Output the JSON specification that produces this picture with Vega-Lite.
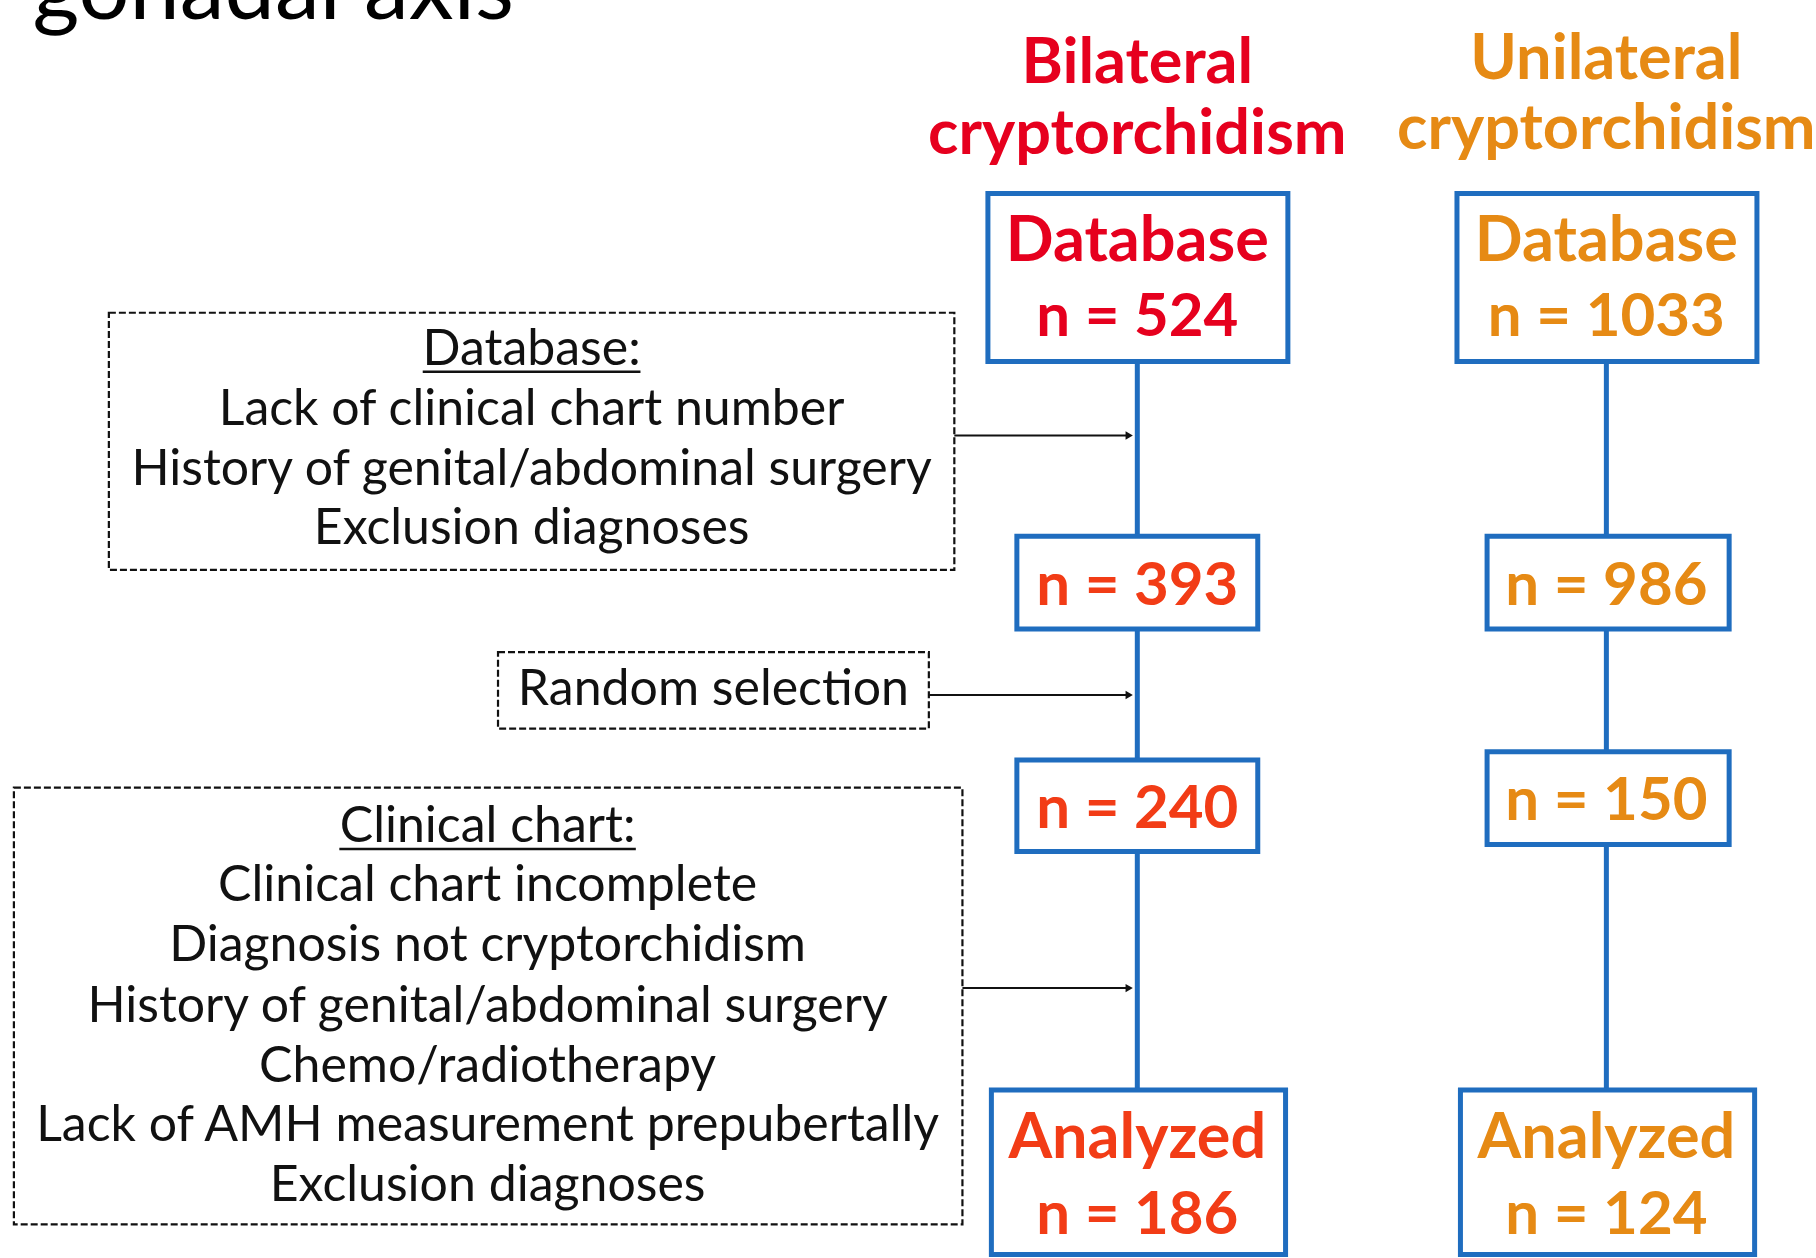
{
  "$schema": "https://vega.github.io/schema/vega-lite/v6.json",
  "width": 1816,
  "height": 1258,
  "autosize": {"type": "none"},
  "padding": 0,
  "background": "white",
  "config": {"view": {"stroke": null}, "axis": {"disable": true}},
  "datasets": {
    "boxes": [
      {"cohort": "Bilateral", "stage": "Database", "x1": 853, "x2": 1112, "y1": 167, "y2": 312},
      {"cohort": "Unilateral", "stage": "Database", "x1": 1258, "x2": 1517, "y1": 167, "y2": 312},
      {"cohort": "Bilateral", "stage": "Eligible", "x1": 878, "x2": 1086, "y1": 463, "y2": 543},
      {"cohort": "Unilateral", "stage": "Eligible", "x1": 1284, "x2": 1493, "y1": 463, "y2": 543},
      {"cohort": "Bilateral", "stage": "Selected", "x1": 878, "x2": 1086, "y1": 656, "y2": 735},
      {"cohort": "Unilateral", "stage": "Selected", "x1": 1284, "x2": 1493, "y1": 649, "y2": 729},
      {"cohort": "Bilateral", "stage": "Analyzed", "x1": 856, "x2": 1110, "y1": 941, "y2": 1083},
      {"cohort": "Unilateral", "stage": "Analyzed", "x1": 1261, "x2": 1515, "y1": 941, "y2": 1083}
    ],
    "links": [
      {"cohort": "Bilateral", "x": 982, "y1": 312, "y2": 463},
      {"cohort": "Bilateral", "x": 982, "y1": 543, "y2": 656},
      {"cohort": "Bilateral", "x": 982, "y1": 735, "y2": 941},
      {"cohort": "Unilateral", "x": 1387, "y1": 312, "y2": 463},
      {"cohort": "Unilateral", "x": 1387, "y1": 543, "y2": 649},
      {"cohort": "Unilateral", "x": 1387, "y1": 729, "y2": 941}
    ],
    "labels": [
      {"cohort": "Bilateral", "stage": "Header", "kind": "word", "text": "Bilateral", "x": 982, "y": 72},
      {"cohort": "Bilateral", "stage": "Header", "kind": "word", "text": "cryptorchidism", "x": 982, "y": 133},
      {"cohort": "Unilateral", "stage": "Header", "kind": "word", "text": "Unilateral", "x": 1387, "y": 68},
      {"cohort": "Unilateral", "stage": "Header", "kind": "word", "text": "cryptorchidism", "x": 1387, "y": 129},
      {"cohort": "Bilateral", "stage": "Database", "kind": "word", "text": "Database", "x": 982, "y": 225},
      {"cohort": "Bilateral", "stage": "Database", "kind": "count", "text": "n = 524", "x": 982, "y": 290},
      {"cohort": "Unilateral", "stage": "Database", "kind": "word", "text": "Database", "x": 1387, "y": 225},
      {"cohort": "Unilateral", "stage": "Database", "kind": "count", "text": "n = 1033", "x": 1387, "y": 290},
      {"cohort": "Bilateral", "stage": "Eligible", "kind": "count", "text": "n = 393", "x": 982, "y": 522},
      {"cohort": "Unilateral", "stage": "Eligible", "kind": "count", "text": "n = 986", "x": 1387, "y": 522},
      {"cohort": "Bilateral", "stage": "Selected", "kind": "count", "text": "n = 240", "x": 982, "y": 715},
      {"cohort": "Unilateral", "stage": "Selected", "kind": "count", "text": "n = 150", "x": 1387, "y": 708},
      {"cohort": "Bilateral", "stage": "Analyzed", "kind": "word", "text": "Analyzed", "x": 982, "y": 1000},
      {"cohort": "Bilateral", "stage": "Analyzed", "kind": "count", "text": "n = 186", "x": 982, "y": 1065},
      {"cohort": "Unilateral", "stage": "Analyzed", "kind": "word", "text": "Analyzed", "x": 1387, "y": 1000},
      {"cohort": "Unilateral", "stage": "Analyzed", "kind": "count", "text": "n = 124", "x": 1387, "y": 1065}
    ],
    "notes": [
      {"block": "Database", "x1": 94, "x2": 824, "y1": 270, "y2": 492, "arrowY": 376},
      {"block": "Random", "x1": 430, "x2": 802, "y1": 563, "y2": 629, "arrowY": 600},
      {"block": "Clinical", "x1": 12, "x2": 831, "y1": 680, "y2": 1057, "arrowY": 853}
    ],
    "noteText": [
      {"block": "Database", "text": "Database:", "x": 459, "y": 315},
      {"block": "Database", "text": "Lack of clinical chart number", "x": 459, "y": 367},
      {"block": "Database", "text": "History of genital/abdominal surgery", "x": 459, "y": 419},
      {"block": "Database", "text": "Exclusion diagnoses", "x": 459, "y": 470},
      {"block": "Random", "text": "Random selection", "x": 616, "y": 609},
      {"block": "Clinical", "text": "Clinical chart:", "x": 421, "y": 727},
      {"block": "Clinical", "text": "Clinical chart incomplete", "x": 421, "y": 778},
      {"block": "Clinical", "text": "Diagnosis not cryptorchidism", "x": 421, "y": 830},
      {"block": "Clinical", "text": "History of genital/abdominal surgery", "x": 421, "y": 882},
      {"block": "Clinical", "text": "Chemo/radiotherapy", "x": 421, "y": 934},
      {"block": "Clinical", "text": "Lack of AMH measurement prepubertally", "x": 421, "y": 985},
      {"block": "Clinical", "text": "Exclusion diagnoses", "x": 421, "y": 1037}
    ],
    "underlines": [
      {"block": "Database", "x1": 365, "x2": 553, "y": 321},
      {"block": "Clinical", "x1": 293, "x2": 549, "y": 733}
    ],
    "title": [
      {"text": "gonadal axis", "x": 28, "y": 16}
    ]
  },
  "layer": [
    {
      "data": {"name": "links"},
      "mark": {"type": "rule", "color": "#1F6DBF", "strokeWidth": 5},
      "encoding": {
        "x": {"field": "x", "type": "quantitative", "scale": {"domain": [0, 1568], "nice": false, "zero": false}},
        "y": {"field": "y1", "type": "quantitative", "scale": {"domain": [0, 1086], "nice": false, "zero": false, "reverse": true}},
        "y2": {"field": "y2"}
      }
    },
    {
      "data": {"name": "boxes"},
      "mark": {"type": "rect", "fill": "white", "stroke": "#1F6DBF", "strokeWidth": 5},
      "encoding": {
        "x": {"field": "x1", "type": "quantitative"},
        "x2": {"field": "x2"},
        "y": {"field": "y1", "type": "quantitative"},
        "y2": {"field": "y2"}
      }
    },
    {
      "data": {"name": "notes"},
      "mark": {"type": "rect", "fill": null, "stroke": "#111111", "strokeWidth": 2.2, "strokeDash": [7, 3]},
      "encoding": {
        "x": {"field": "x1", "type": "quantitative"},
        "x2": {"field": "x2"},
        "y": {"field": "y1", "type": "quantitative"},
        "y2": {"field": "y2"}
      }
    },
    {
      "data": {"name": "notes"},
      "mark": {"type": "rule", "color": "#111111", "strokeWidth": 2},
      "encoding": {
        "x": {"field": "x2", "type": "quantitative"},
        "x2": {"datum": 974},
        "y": {"field": "arrowY", "type": "quantitative"}
      }
    },
    {
      "data": {"name": "notes"},
      "mark": {"type": "point", "shape": "triangle-right", "filled": true, "color": "#111111", "size": 70, "opacity": 1},
      "encoding": {
        "x": {"datum": 975, "type": "quantitative"},
        "y": {"field": "arrowY", "type": "quantitative"}
      }
    },
    {
      "data": {"name": "underlines"},
      "mark": {"type": "rule", "color": "#111111", "strokeWidth": 2.5},
      "encoding": {
        "x": {"field": "x1", "type": "quantitative"},
        "x2": {"field": "x2"},
        "y": {"field": "y", "type": "quantitative"}
      }
    },
    {
      "data": {"name": "noteText"},
      "mark": {"type": "text", "font": "Lato", "fontSize": 50, "color": "#111111", "align": "center", "baseline": "alphabetic"},
      "encoding": {
        "x": {"field": "x", "type": "quantitative"},
        "y": {"field": "y", "type": "quantitative"},
        "text": {"field": "text"}
      }
    },
    {
      "data": {"name": "labels"},
      "transform": [{"filter": "datum.kind === 'word'"}],
      "mark": {"type": "text", "font": "Lato", "fontWeight": "bold", "fontSize": 63, "align": "center", "baseline": "alphabetic"},
      "encoding": {
        "x": {"field": "x", "type": "quantitative"},
        "y": {"field": "y", "type": "quantitative"},
        "text": {"field": "text"},
        "color": {
          "condition": [
            {"test": "datum.cohort === 'Unilateral'", "value": "#E68A14"},
            {"test": "datum.stage === 'Header' || datum.stage === 'Database'", "value": "#E6001E"}
          ],
          "value": "#F23C16"
        }
      }
    },
    {
      "data": {"name": "labels"},
      "transform": [{"filter": "datum.kind === 'count'"}],
      "mark": {"type": "text", "font": "Lato", "fontWeight": "bold", "fontSize": 60, "align": "center", "baseline": "alphabetic"},
      "encoding": {
        "x": {"field": "x", "type": "quantitative"},
        "y": {"field": "y", "type": "quantitative"},
        "text": {"field": "text"},
        "color": {
          "condition": [
            {"test": "datum.cohort === 'Unilateral'", "value": "#E68A14"},
            {"test": "datum.stage === 'Header' || datum.stage === 'Database'", "value": "#E6001E"}
          ],
          "value": "#F23C16"
        }
      }
    },
    {
      "data": {"name": "title"},
      "mark": {"type": "text", "font": "Lato", "fontSize": 90, "color": "#000000", "align": "left", "baseline": "alphabetic"},
      "encoding": {
        "x": {"field": "x", "type": "quantitative"},
        "y": {"field": "y", "type": "quantitative"},
        "text": {"field": "text"}
      }
    }
  ]
}
